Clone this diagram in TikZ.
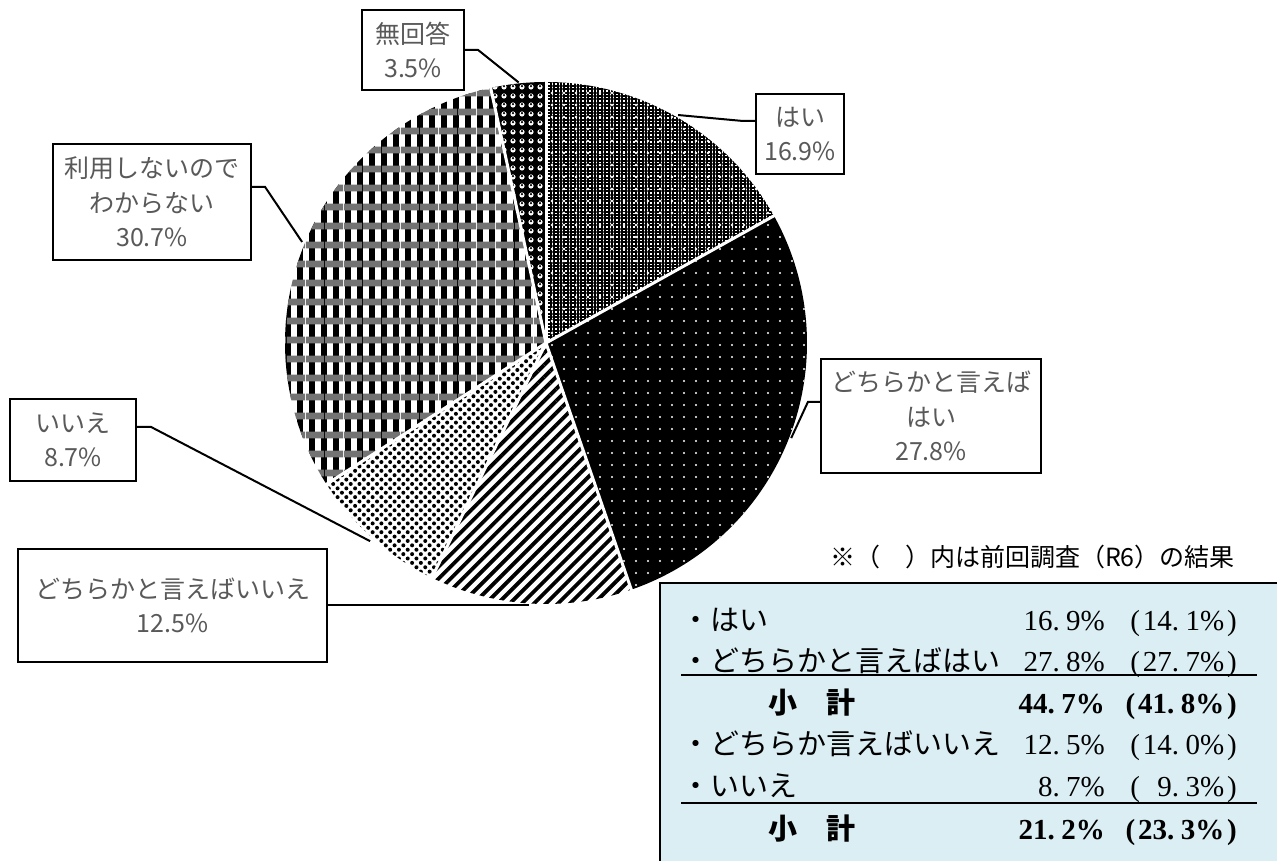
\documentclass[tikz,border=0pt]{standalone}
\usepackage{fontspec}
\newfontfamily\jpfont{Noto Sans CJK JP}
\newfontfamily\numfont{Liberation Serif}
\usetikzlibrary{patterns.meta}
\definecolor{labelgray}{HTML}{595959}
\definecolor{tablefill}{HTML}{DAEEF3}
\newcommand\pv[2]{#1.\hspace{0.22em}#2\%}
\newcommand\pp[2]{(\hspace{0.1em}\pv{#1}{#2}\hspace{0.1em})}
\tikzset{%
    wedge/.style 2 args={%
        insert path={(0,0) -- (#1:261) arc[start angle=#1, end angle=#2, radius=261] -- cycle}
    },
    slicegap/.style={white, line width=3pt},
    label box/.style={draw, line width=2.2pt, fill=white, align=center, text=labelgray,
        inner sep=0pt, font=\jpfont\fontsize{25}{34.5}\selectfont},
    leader/.style={line width=2pt},
    rowtext/.style={anchor=base west, inner sep=0pt, font=\jpfont\fontsize{29}{29}\selectfont},
    rowsum/.style={rowtext, font=\jpfont\bfseries\fontsize{29}{29}\selectfont},
    rowval/.style={anchor=base east, inner sep=0pt, font=\numfont\fontsize{29}{29}\selectfont},
    rowvalsum/.style={rowval, font=\numfont\bfseries\fontsize{29}{29}\selectfont}
}

\begin{document}
\begin{tikzpicture}[x=1pt, y=1pt]
\useasboundingbox (0,0) rectangle (1277,861);

\begin{scope}[shift={(546,518)}]
    \path[preaction={fill=white}, pattern={Hatch[distance=3.4pt, line width=1.9pt]},
        postaction={pattern={Dots[distance=12pt, radius=1.3pt]}, pattern color=white},
        wedge={90}{29.16}];
    \path[preaction={fill=black}, pattern={Dots[distance=12pt, radius=1.1pt]}, pattern color=white,
        wedge={29.16}{-70.92}];
    \path[preaction={fill=white}, pattern={Lines[angle=45, distance=8.5pt, line width=3.8pt]},
        wedge={-70.92}{-115.92}];
    \path[preaction={fill=white}, pattern={Dots[angle=45, distance=6.2pt, radius=2pt]},
        wedge={-115.92}{-147.24}];
    \path[preaction={fill=white}, pattern={Lines[angle=90, distance=12pt, line width=6pt]},
        postaction={pattern={Lines[distance=18.5pt, line width=7pt]}, pattern color=black!55},
        wedge={-147.24}{-257.76}];
    \path[preaction={fill=black}, pattern={Dots[distance=9pt, radius=2.6pt]}, pattern color=white,
        postaction={pattern={Dots[distance=9pt, radius=1.2pt, yshift=0.8pt]}, pattern color=black},
        wedge={-257.76}{-270}];
    \foreach \a in {90, 29.16, -70.92, -115.92, -147.24, 102.24}
        \draw[slicegap] (0,0) -- (\a:263);
    \path (96:262) coordinate (pmu) (157.5:264) coordinate (pri) (59.9:263.5) coordinate (phai)
        (-21.2:263) coordinate (pyh) (-131.6:265) coordinate (piie) (-93.7:265.5) coordinate (pyi);
\end{scope}

\node[label box, minimum width=102pt, minimum height=80pt] (mu) at (413,811) {無回答\\3.5\%};
\node[label box, minimum width=198pt, minimum height=116pt] (ri) at (152,659) {利用しないので\\わからない\\30.7\%};
\node[label box, minimum width=88pt, minimum height=80pt] (hai) at (800,727) {はい\\16.9\%};
\node[label box, minimum width=220pt, minimum height=114pt] (yh) at (931,445) {どちらかと言えば\\はい\\27.8\%};
\node[label box, minimum width=126pt, minimum height=82pt] (iie) at (73,421) {いいえ\\8.7\%};
\node[label box, minimum width=309pt, minimum height=113pt] (yi) at (172.5,255.5) {どちらかと言えばいいえ\\12.5\%};

\draw[leader] (mu.east) -- ++(13,0) -- (pmu);
\draw[leader] ([yshift=15pt]ri.east) -- ++(13,0) -- (pri);
\draw[leader] ([yshift=13pt]hai.west) -- ++(-12,0) -- (phai);
\draw[leader] ([yshift=14pt]yh.west) -- ++(-12,0) -- (pyh);
\draw[leader] ([yshift=13pt]iie.east) -- ++(14,0) -- (piie);
\draw[leader] (yi.east) -- (yi.east -| pyi);

\node[anchor=base east, inner sep=0pt, font=\jpfont\fontsize{25}{25}\selectfont] (note) at (1235,294)
    {※（　）内は前回調査（R6）の結果};
\draw[fill=tablefill, line width=2pt] (660,278) rectangle (1300,-20);

\node[rowtext] (r1) at (681,230.5) {・はい};
\node[rowval] (r1a) at (1105,230.5) {\pv{16}{9}};
\node[rowval] (r1b) at (1237,230.5) {\pp{14}{1}};
\node[rowtext] (r2) at (681,189.5) {・どちらかと言えばはい};
\node[rowval] (r2a) at (1105,189.5) {\pv{27}{8}};
\node[rowval] (r2b) at (1237,189.5) {\pp{27}{7}};
\draw[line width=2pt] (681,186) -- (1257,186);
\node[rowsum] (s1) at (768,147.5) {小　計};
\node[rowvalsum] (s1a) at (1105,147.5) {\pv{44}{7}};
\node[rowvalsum] (s1b) at (1237,147.5) {\pp{41}{8}};
\node[rowtext] (r3) at (681,106.5) {・どちらか言えばいいえ};
\node[rowval] (r3a) at (1105,106.5) {\pv{12}{5}};
\node[rowval] (r3b) at (1237,106.5) {\pp{14}{0}};
\node[rowtext] (r4) at (681,64.5) {・いいえ};
\node[rowval] (r4a) at (1105,64.5) {\pv{8}{7}};
\node[rowval] (r4b) at (1237,64.5) {\pp{\phantom{1}9}{3}};
\draw[line width=2pt] (681,58) -- (1257,58);
\node[rowsum] (s2) at (768,21.5) {小　計};
\node[rowvalsum] (s2a) at (1105,21.5) {\pv{21}{2}};
\node[rowvalsum] (s2b) at (1237,21.5) {\pp{23}{3}};
\end{tikzpicture}
\end{document}
